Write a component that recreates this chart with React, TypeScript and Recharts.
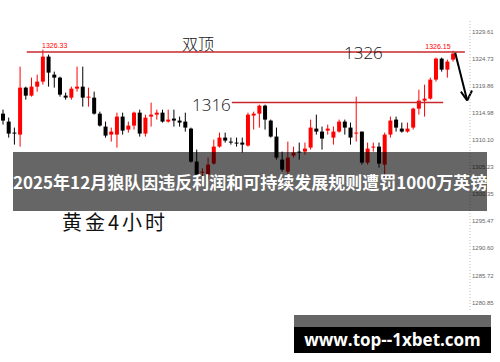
import React from 'react';
import { ComposedChart, Bar, XAxis, YAxis, ReferenceLine, ReferenceDot } from 'recharts';

// 4h gold candles
const opens = [
  1314.83, 1313.40, 1311.42, 1311.06, 1319.51, 1318.07, 1319.69, 1320.59, 1325.09, 1321.85,
  1321.31, 1318.07, 1317.71, 1319.33, 1319.69, 1317.71, 1317.71, 1314.83, 1312.50, 1311.06,
  1311.06, 1314.30, 1311.96, 1312.68, 1315.01, 1311.24, 1314.30, 1314.65, 1315.01, 1313.40,
  1313.94, 1313.58, 1313.40, 1312.14, 1306.20, 1304.20, 1303.86, 1305.84, 1308.90, 1310.52,
  1309.80, 1309.62, 1309.62, 1309.08, 1314.48, 1314.83, 1316.27, 1313.58, 1310.70, 1306.56,
  1304.40, 1307.28, 1308.00, 1308.00, 1308.72, 1312.14, 1311.60, 1311.78, 1310.52, 1311.60,
  1313.40, 1312.32, 1311.24, 1311.60, 1306.02, 1308.72, 1308.90, 1305.66, 1311.06, 1313.76,
  1312.14, 1311.60, 1312.32, 1315.73, 1317.17, 1317.53, 1320.95, 1324.73, 1322.75, 1324.55,
];
const highs = [
  1315.55, 1314.12, 1312.32, 1323.29, 1319.69, 1321.31, 1321.85, 1326.33, 1325.45, 1322.39,
  1321.49, 1318.61, 1319.69, 1323.29, 1323.29, 1319.51, 1318.79, 1315.19, 1313.40, 1312.32,
  1315.01, 1315.01, 1313.40, 1315.19, 1315.55, 1314.65, 1316.81, 1315.55, 1315.55, 1315.55,
  1315.55, 1314.30, 1315.01, 1312.32, 1308.36, 1305.00, 1306.92, 1310.16, 1311.42, 1311.42,
  1310.52, 1310.52, 1310.52, 1315.01, 1315.19, 1316.45, 1316.45, 1313.76, 1312.32, 1308.00,
  1309.80, 1308.90, 1309.62, 1309.62, 1313.76, 1314.65, 1312.50, 1312.86, 1312.50, 1313.76,
  1313.76, 1313.22, 1317.89, 1311.60, 1309.62, 1309.62, 1309.62, 1311.42, 1314.30, 1314.30,
  1313.22, 1313.22, 1315.91, 1319.15, 1320.05, 1321.31, 1324.91, 1324.91, 1324.55, 1326.15,
];
const lows = [
  1312.86, 1310.52, 1309.26, 1308.90, 1317.35, 1317.89, 1318.79, 1320.05, 1319.69, 1319.51,
  1317.89, 1317.35, 1317.35, 1318.79, 1316.09, 1316.09, 1314.65, 1312.50, 1310.52, 1309.80,
  1308.72, 1311.06, 1311.42, 1311.96, 1310.70, 1310.70, 1312.50, 1313.76, 1313.22, 1313.22,
  1312.50, 1312.50, 1311.60, 1306.02, 1303.33, 1302.80, 1302.97, 1305.66, 1308.72, 1309.62,
  1309.26, 1308.90, 1307.82, 1308.90, 1311.96, 1312.32, 1311.96, 1310.52, 1306.56, 1304.40,
  1303.86, 1306.92, 1306.56, 1307.46, 1308.36, 1311.06, 1308.36, 1311.06, 1309.26, 1311.42,
  1311.06, 1309.26, 1309.80, 1305.66, 1305.66, 1308.00, 1305.12, 1303.33, 1310.52, 1311.60,
  1311.42, 1311.42, 1311.96, 1314.65, 1314.30, 1317.35, 1320.59, 1322.39, 1321.31, 1324.19,
];
const closes = [
  1313.58, 1311.24, 1311.24, 1319.51, 1318.07, 1319.69, 1320.59, 1325.09, 1322.21, 1321.31,
  1318.25, 1317.71, 1319.33, 1319.69, 1317.71, 1317.89, 1314.83, 1312.68, 1310.88, 1311.60,
  1314.30, 1311.78, 1312.68, 1315.01, 1311.24, 1314.12, 1314.65, 1315.01, 1313.40, 1313.76,
  1313.58, 1313.22, 1312.32, 1306.20, 1303.86, 1304.40, 1305.66, 1308.90, 1310.52, 1309.98,
  1309.62, 1309.44, 1309.26, 1314.65, 1314.83, 1316.27, 1313.76, 1310.70, 1306.92, 1304.76,
  1306.92, 1307.82, 1307.82, 1308.54, 1312.32, 1311.60, 1310.34, 1312.14, 1311.60, 1313.40,
  1312.32, 1310.52, 1311.42, 1306.02, 1308.54, 1308.90, 1305.84, 1311.06, 1313.58, 1312.32,
  1311.60, 1312.14, 1315.73, 1317.17, 1317.53, 1320.95, 1324.73, 1322.75, 1324.19, 1325.63,
];
const priceTicks = [
  1280.85, 1285.72, 1290.6, 1295.47, 1300.35, 1305.23, 1310.1, 1314.98, 1319.86, 1324.73, 1329.61,
];

const data = opens.map((open, i) => ({
  i,
  open,
  high: highs[i],
  low: lows[i],
  close: closes[i],
  range: [lows[i], highs[i]],
}));

const Candle = (props: any) => {
  const { x, y, width, height, payload } = props;
  const top = Math.min(y, y + height);
  const bot = Math.max(y, y + height);
  const { open, close, high, low } = payload;
  const k = (bot - top) / (high - low);
  const py = (v: number) => top + (high - v) * k;
  const color = close >= open ? '#ff0000' : '#000000';
  const cx = x + width / 2;
  const bTop = py(Math.max(open, close));
  const bBot = py(Math.min(open, close));
  return (
    <g>
      <line x1={cx} x2={cx} y1={top} y2={bot} stroke={color} strokeWidth={1} />
      <rect x={cx - 2} y={bTop} width={4} height={Math.max(1, bBot - bTop)} fill={color} />
    </g>
  );
};

const cjk = '"Noto Sans CJK SC", "Noto Sans", sans-serif';

export default function App() {
  return (
    <div style={{ position: 'fixed', left: 0, top: 0, width: 500, height: 362, background: '#fff', overflow: 'hidden' }}>
      <ComposedChart width={500} height={362} data={data} margin={{ top: 21, right: 0, left: 0, bottom: 52 }}>
        <XAxis type="number" dataKey="i" domain={[-0.5, 82]} hide />
        <YAxis
          orientation="right"
          width={30}
          domain={[1279.5, 1331.5]}
          ticks={priceTicks}
          interval={0}
          tickLine={false}
          tickSize={0}
          tickMargin={2}
          axisLine={{ stroke: '#bbb', strokeDasharray: '1 2' }}
          tick={{ fontSize: 6, fill: '#666', fontFamily: 'Liberation Sans, sans-serif' }}
          tickFormatter={(v: number) => v.toFixed(2)}
        />
        <ReferenceLine segment={[{ x: 4.2, y: 1325.9 }, { x: 81.1, y: 1325.9 }]} stroke="#c8282d" strokeWidth={1.5} ifOverflow="visible" />
        <ReferenceLine segment={[{ x: 40.2, y: 1316.85 }, { x: 77.3, y: 1316.85 }]} stroke="#c8282d" strokeWidth={1.5} ifOverflow="visible" />
        <Bar dataKey="range" barSize={4} shape={Candle} isAnimationActive={false} />
        <ReferenceDot
          x={7}
          y={1326.33}
          r={0}
          ifOverflow="visible"
          label={{ value: '1326.33', position: 'top', offset: 2, dx: 12, fontSize: 7, fill: '#ff0000', fontFamily: 'Liberation Sans, sans-serif' }}
        />
        <ReferenceDot
          x={79}
          y={1326.15}
          r={0}
          ifOverflow="visible"
          label={{ value: '1326.15', position: 'top', offset: 2, dx: -15, fontSize: 7, fill: '#ff0000', fontFamily: 'Liberation Sans, sans-serif' }}
        />
        {/* down arrow after the double top */}
        <ReferenceLine segment={[{ x: 79.4, y: 1325.8 }, { x: 81.5, y: 1317.2 }]} stroke="#000" strokeWidth={2} ifOverflow="visible" />
        <ReferenceLine segment={[{ x: 80.4, y: 1318.8 }, { x: 81.5, y: 1317.2 }]} stroke="#000" strokeWidth={2} ifOverflow="visible" />
        <ReferenceLine segment={[{ x: 82.35, y: 1319.0 }, { x: 81.5, y: 1317.2 }]} stroke="#000" strokeWidth={2} ifOverflow="visible" />
      </ComposedChart>

      <div style={{ position: 'absolute', left: 182, top: 33, fontFamily: cjk, fontSize: 16, fontWeight: 300, lineHeight: '20px', color: '#111' }}>双顶</div>
      <div style={{ position: 'absolute', left: 344, top: 42, fontFamily: '"Open Sans", sans-serif', fontSize: 17, fontWeight: 300, lineHeight: '22px', color: '#111' }}>1326</div>
      <div style={{ position: 'absolute', left: 192, top: 94, fontFamily: '"Open Sans", sans-serif', fontSize: 17, fontWeight: 300, lineHeight: '22px', color: '#111' }}>1316</div>

      <div
        style={{
          position: 'absolute', left: 13, top: 152, width: 474, height: 59,
          background: 'rgba(0,0,0,0.6)', color: '#fff', fontFamily: cjk, fontWeight: 700,
          fontSize: 17, lineHeight: '59px', textAlign: 'center', whiteSpace: 'nowrap',
        }}
      >
        2025年12月狼队因违反利润和可持续发展规则遭罚1000万英镑
      </div>

      <div style={{ position: 'absolute', left: 62, top: 208, fontFamily: cjk, fontSize: 20, letterSpacing: 3, lineHeight: '28px', color: '#111' }}>黄金4小时</div>

      <div style={{ position: 'absolute', left: 294, top: 315, width: 197, height: 12, background: '#666' }} />
      <div
        style={{
          position: 'absolute', left: 294, top: 327, width: 197, height: 26, background: '#000',
          color: '#fff', fontFamily: '"Open Sans", sans-serif', fontWeight: 700, fontSize: 17,
          lineHeight: '26px', textAlign: 'center',
        }}
      >
        www.top--1xbet.com
      </div>
    </div>
  );
}
